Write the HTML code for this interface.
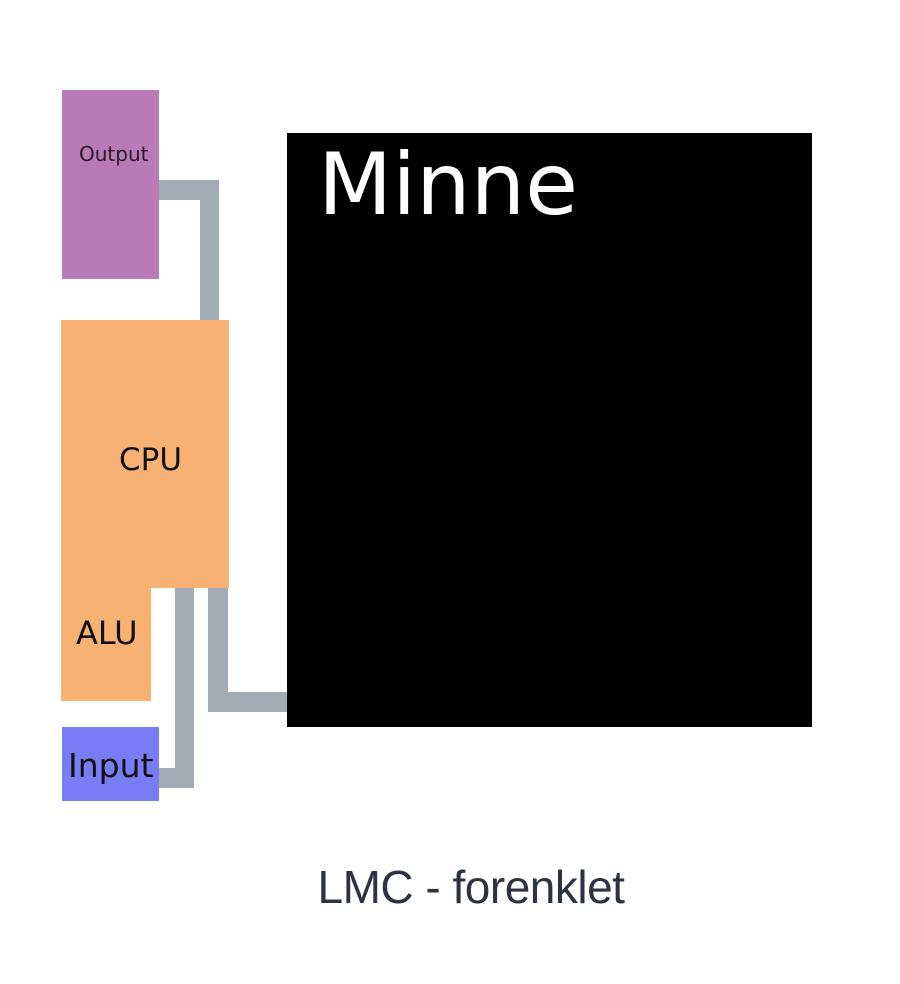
<!DOCTYPE html>
<html><head><style>
body{margin:0;width:900px;height:984px;background:#fff;position:relative;overflow:hidden;font-family:"DejaVu Sans","Liberation Sans",sans-serif}
div{position:absolute}
.c{background:#a3acb5}
</style></head><body>
<div style="left:62px;top:90px;width:97px;height:189px;background:#b87bb8"></div>
<div style="left:79px;top:142px;font-size:20px;color:#2a1a2a">Output</div>
<div class="c" style="left:159px;top:180px;width:60px;height:20px"></div>
<div class="c" style="left:200px;top:180px;width:19px;height:141px"></div>
<div style="left:61px;top:320px;width:168px;height:268px;background:#f7b173"></div>
<div style="left:61px;top:587px;width:90px;height:114px;background:#f7b173"></div>
<div style="left:119px;top:442px;font-size:31px;color:#111">CPU</div>
<div style="left:76px;top:614px;font-size:32px;color:#111">ALU</div>
<div class="c" style="left:175px;top:588px;width:19px;height:200px"></div>
<div class="c" style="left:159px;top:768px;width:35px;height:20px"></div>
<div class="c" style="left:208px;top:588px;width:20px;height:124px"></div>
<div class="c" style="left:208px;top:692px;width:80px;height:20px"></div>
<div style="left:62px;top:727px;width:97px;height:74px;background:#7a7cf5"></div>
<div style="left:68px;top:746px;font-size:33px;color:#111">Input</div>
<div style="left:287px;top:133px;width:525px;height:594px;background:#000"></div>
<div style="left:318px;top:135px;font-size:86px;color:#fff">Minne</div>
<div style="left:0;width:942px;top:860px;text-align:center;font-size:46px;letter-spacing:-0.5px;color:#2d3340;font-family:'Liberation Sans',sans-serif">LMC - forenklet</div>
</body></html>
